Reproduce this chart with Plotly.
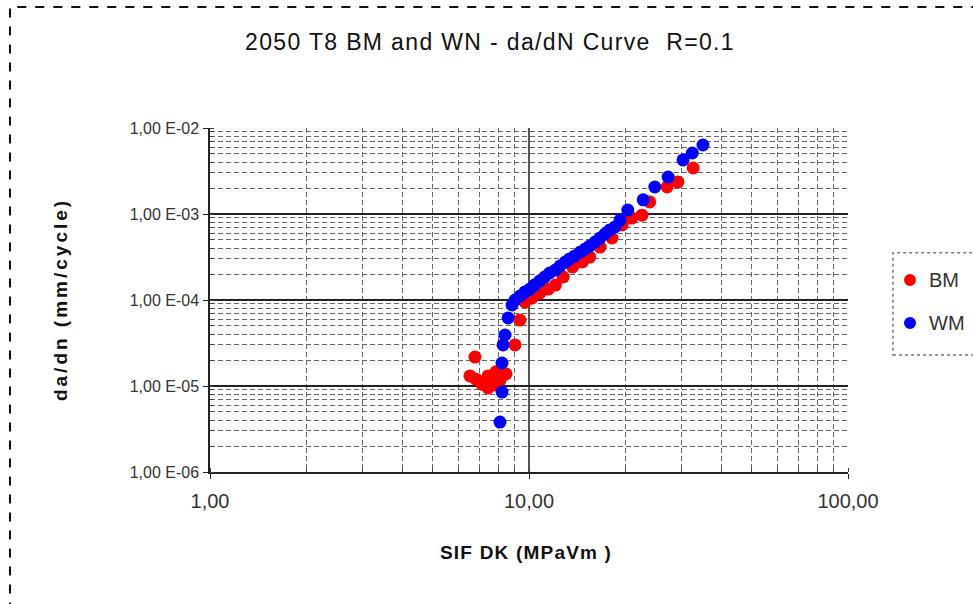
import plotly.graph_objects as go

# ---- data ----
bm_dk = [6.77, 6.53, 6.82, 7.12, 7.44, 7.77, 8.11, 8.47, 7.44, 7.88, 9.04, 9.37, 9.71,
         10.2, 10.8, 11.5, 12.1, 12.8, 13.7, 14.7, 15.5, 16.7, 18.2, 19.6, 21.0, 22.6,
         23.9, 27.1, 29.3, 32.7]
bm_dadn = [2.17e-5, 1.31e-5, 1.20e-5, 1.05e-5, 9.5e-6, 1.03e-5, 1.17e-5, 1.38e-5, 1.31e-5,
           1.46e-5, 3.0e-5, 5.85e-5, 9.5e-5, 1.05e-4, 1.2e-4, 1.34e-4, 1.49e-4, 1.85e-4,
           2.42e-4, 2.77e-4, 3.16e-4, 4.13e-4, 5.26e-4, 7.45e-4, 8.97e-4, 9.7e-4, 1.38e-3,
           2.06e-3, 2.36e-3, 3.43e-3]

wm_dk = [8.11, 8.23, 8.23, 8.29, 8.41, 8.60, 8.85, 9.04, 9.37, 9.71, 10.07, 10.4, 10.8,
         11.2, 11.6, 12.1, 12.5, 13.0, 13.4, 13.9, 14.5, 15.0, 15.5, 16.1, 16.7, 17.3,
         17.9, 18.6, 19.3, 20.4, 22.8, 24.8, 27.3, 30.4, 32.5, 35.1]
wm_dadn = [3.81e-6, 8.5e-6, 1.85e-5, 3.0e-5, 3.92e-5, 6.18e-5, 8.75e-5, 1.0e-4, 1.11e-4,
           1.24e-4, 1.34e-4, 1.49e-4, 1.66e-4, 1.85e-4, 2.06e-4, 2.23e-4, 2.48e-4, 2.77e-4,
           3.0e-4, 3.25e-4, 3.62e-4, 3.92e-4, 4.25e-4, 4.72e-4, 5.26e-4, 5.85e-4, 6.51e-4,
           7.06e-4, 8.5e-4, 1.11e-3, 1.46e-3, 2.06e-3, 2.69e-3, 4.25e-3, 5.12e-3, 6.34e-3]

series_names = ["BM", "WM"]
series_colors = ["#ff0000", "#0000ff"]

x_tickvals = [1, 10, 100]
x_ticktext = ["1,00", "10,00", "100,00"]
y_tickvals = [1e-6, 1e-5, 1e-4, 1e-3, 1e-2]
y_ticktext = ["1,00 E-06", "1,00 E-05", "1,00 E-04", "1,00 E-03", "1,00 E-02"]

FONT = "Liberation Sans, Arial, sans-serif"

fig = go.Figure()
fig.add_trace(go.Scatter(x=bm_dk, y=bm_dadn, mode="markers", name=series_names[0],
                         marker=dict(color=series_colors[0], size=13, line=dict(width=0))))
fig.add_trace(go.Scatter(x=wm_dk, y=wm_dadn, mode="markers", name=series_names[1],
                         marker=dict(color=series_colors[1], size=13, line=dict(width=0))))

fig.update_layout(
    width=973, height=604,
    margin=dict(l=210, r=125, t=128, b=132),
    paper_bgcolor="white", plot_bgcolor="white",
    font=dict(family=FONT, size=16, color="#222"),
    title=dict(text="<span style='letter-spacing:1.35px'>2050 T8 BM and WN - da/dN Curve  R=0.1</span>",
               x=490 / 973, xref="container",
               y=1 - 42 / 604, yref="container", yanchor="middle", xanchor="center",
               font=dict(family=FONT, size=23, color="#111")),
    showlegend=False,
)

GRID_DASH = "5px,3px"

fig.update_xaxes(
    type="log", range=[0, 2], tickmode="array", tickvals=x_tickvals, ticktext=x_ticktext,
    showline=True, linecolor="#222", linewidth=1.5, ticks="outside", ticklen=5,
    tickcolor="#222", ticklabelstandoff=5,
    showgrid=True, gridcolor="#555", gridwidth=2, zeroline=False,
    minor=dict(dtick="D1", showgrid=True, gridcolor="#666", griddash=GRID_DASH, gridwidth=1,
               ticks="inside", ticklen=4, tickcolor="#444"),
    tickfont=dict(size=20, color="#333"),
)
fig.update_yaxes(
    type="log", range=[-6, -2], tickmode="array", tickvals=y_tickvals, ticktext=y_ticktext,
    showline=True, linecolor="#222", linewidth=1.5, ticks="outside", ticklen=5,
    tickcolor="#222", ticklabelstandoff=1,
    showgrid=True, gridcolor="#222", gridwidth=2, zeroline=False,
    minor=dict(dtick="D1", showgrid=True, gridcolor="#666", griddash=GRID_DASH, gridwidth=1,
               ticks="inside", ticklen=4, tickcolor="#444"),
    tickfont=dict(size=16, color="#333"),
)

# axis titles
fig.add_annotation(text="<b><span style='letter-spacing:3px'>da/dn (mm/cycle)</span></b>",
                   x=-0.235, y=0.5, xref="paper", yref="paper",
                   xanchor="center", yanchor="middle",
                   textangle=-90, showarrow=False, font=dict(size=19, color="#111"))
fig.add_annotation(text="<b><span style='letter-spacing:1.2px'>SIF DK (MPaVm )</span></b>",
                   x=0.495, y=-0.235, xref="paper", yref="paper",
                   xanchor="center", yanchor="middle",
                   showarrow=False, font=dict(size=19, color="#111"))

# legend (drawn manually so it does not push the plot margins)
fig.add_shape(type="rect", xref="paper", yref="paper", x0=1.0705, x1=1.25, y0=0.340, y1=0.637,
              line=dict(color="#777", width=1.5, dash="dot"), fillcolor="rgba(0,0,0,0)")
for name, color, yy in zip(series_names, series_colors, [0.558, 0.433]):
    fig.add_shape(type="circle", xref="paper", yref="paper", xsizemode="pixel",
                  ysizemode="pixel", xanchor=1.0972, yanchor=yy, x0=-6, x1=6, y0=-6, y1=6,
                  fillcolor=color, line=dict(width=0))
    fig.add_annotation(text=name, x=1.1238, y=yy, xref="paper", yref="paper",
                       xanchor="left", yanchor="middle", showarrow=False,
                       font=dict(size=20, color="#333"))

# outer chart frame
fig.add_shape(type="rect", xref="paper", yref="paper", x0=-0.3135, x1=1.4, y0=-0.45, y1=1.352,
              line=dict(color="#111", width=2, dash="dash"), fillcolor="rgba(0,0,0,0)")

fig.write_html("out.html")
